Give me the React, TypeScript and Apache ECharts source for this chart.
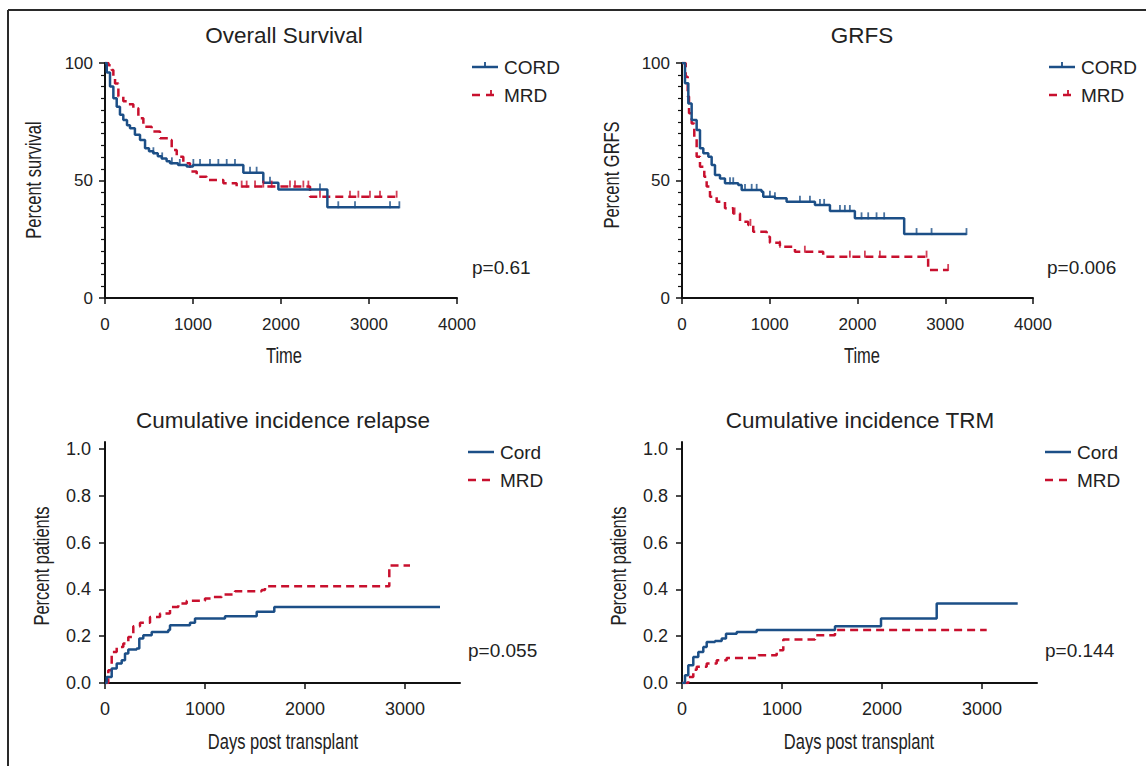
import React, { useEffect, useRef } from "react";
import * as echarts from "echarts";

const BLUE = "#1c4f87";
const RED = "#c8102e";
const INK = "#222222";
const SANS = "Liberation Sans, Arial, Helvetica, sans-serif";

// ---------- Overall survival (days, percent) ----------
const osCord = [
  [0, 100], [20, 96], [57, 90], [95, 85], [133, 81.4], [170, 78], [208, 75.7], [250, 73.5], [284, 72.2],
  [340, 69.5], [398, 67.2], [455, 63.7], [500, 62.5], [549, 61.6], [600, 60.3], [644, 59.4], [700, 58.2],
  [739, 57.3], [830, 56.6], [928, 56], [1000, 56.6], [1572, 53.3], [1799, 49], [1970, 46.2], [2527, 38.6],
  [3345, 38.6],
];
const osMrd = [
  [0, 100], [40, 99], [76, 97], [95, 94], [114, 91.3], [152, 85.7], [208, 83.7], [265, 82.5], [322, 80.7],
  [379, 76.5], [436, 72.9], [530, 70.8], [625, 68], [720, 67.2], [758, 63], [815, 60.1], [890, 57.3],
  [966, 53.8], [1042, 51.6], [1155, 50.2], [1345, 48.8], [1496, 47.4], [2330, 43.1], [3314, 43.1],
];
const osCordCensor = [550, 650, 760, 850, 1004, 1080, 1193, 1288, 1383, 1477, 1648, 1723, 1875, 2443, 2651, 2841, 3239, 3345];
const osMrdCensor = [1553, 1610, 1705, 1799, 1894, 2102, 2159, 2254, 2311, 2443, 2784, 2879, 3011, 3125, 3314];

// ---------- GRFS (days, percent) ----------
const grfsCord = [
  [0, 100], [34, 91.4], [72, 82.8], [110, 75.7], [167, 71.5], [205, 63.7], [243, 61.6], [300, 60.1],
  [338, 56.6], [376, 52.3], [433, 50.9], [490, 48.8], [641, 48.1], [680, 46], [907, 45.2], [926, 43.1],
  [1059, 42.4], [1192, 41], [1515, 39.6], [1686, 37], [1970, 33.9], [2532, 27.2], [3242, 27.2],
];
const grfsMrd = [
  [0, 100], [42, 94.2], [65, 85.7], [80, 78.6], [110, 74.3], [140, 68.6], [167, 60.1], [205, 55.9],
  [254, 51.6], [281, 47.4], [319, 43.1], [395, 41], [490, 38.2], [584, 36], [661, 32.5], [755, 31.1],
  [812, 28.2], [965, 26.1], [1002, 23.5], [1116, 21.8], [1287, 19.7], [1609, 17.6], [2805, 11.9], [3033, 11.9],
];
const grfsCordCensor = [547, 584, 718, 794, 851, 1002, 1059, 1344, 1458, 1572, 1620, 1800, 1856, 1913, 2046, 2122, 2217, 2304, 2673, 2844, 3242];
const grfsMrdCensor = [600, 780, 1116, 1400, 1913, 2084, 2255, 2787, 3033];

// ---------- Cumulative incidence relapse (days, proportion) ----------
const cirCord = [
  [0, 0], [17, 0.026], [67, 0.062], [117, 0.083], [167, 0.097], [200, 0.126], [233, 0.143], [317, 0.147],
  [343, 0.19], [383, 0.204], [467, 0.218], [633, 0.226], [650, 0.247], [850, 0.257], [900, 0.276],
  [1200, 0.285], [1517, 0.304], [1693, 0.325], [3350, 0.325],
];
const cirMrd = [
  [0, 0], [33, 0.054], [67, 0.133], [117, 0.154], [183, 0.169], [233, 0.197], [283, 0.243], [350, 0.257],
  [450, 0.282], [550, 0.297], [650, 0.325], [733, 0.34], [817, 0.351], [1000, 0.361], [1067, 0.368],
  [1167, 0.378], [1300, 0.392], [1567, 0.397], [1600, 0.414], [2843, 0.502], [3050, 0.502],
];

// ---------- Cumulative incidence TRM (days, proportion) ----------
const trmCord = [
  [0, 0], [30, 0.033], [63, 0.076], [113, 0.111], [163, 0.133], [213, 0.154], [247, 0.175], [330, 0.18],
  [397, 0.19], [440, 0.211], [547, 0.218], [747, 0.226], [1530, 0.243], [1990, 0.276], [2547, 0.34], [3357, 0.34],
];
const trmMrd = [
  [0, 0], [63, 0.026], [113, 0.057], [147, 0.069], [247, 0.083], [347, 0.097], [447, 0.107], [763, 0.119],
  [947, 0.14], [1013, 0.186], [1330, 0.204], [1530, 0.226], [3047, 0.226],
];

const survTicks = [0, 50, 100];
const dayTicksTop = [0, 1000, 2000, 3000, 4000];
const dayTicksBottom = [0, 1000, 2000, 3000];
const ciTicks = [0, 0.2, 0.4, 0.6, 0.8, 1.0];

const titles = ["Overall Survival", "GRFS", "Cumulative incidence relapse", "Cumulative incidence TRM"];
const xNames = ["Time", "Time", "Days post transplant", "Days post transplant"];
const yNames = ["Percent survival", "Percent GRFS", "Percent patients", "Percent patients"];
const pValues = ["p=0.61", "p=0.006", "p=0.055", "p=0.144"];
const legendTop = ["CORD", "MRD"];
const legendBottom = ["Cord", "MRD"];

function stepValue(curve: number[][], d: number) {
  let v = curve[0][1];
  for (const p of curve) {
    if (p[0] <= d) v = p[1];
  }
  return v;
}

const GRIDS = [
  { left: 105, top: 63, width: 352, height: 235 },
  { left: 682, top: 63, width: 351, height: 235 },
  { left: 105, top: 442, width: 355, height: 241 },
  { left: 682, top: 442, width: 355, height: 241 },
];

function xAxisFor(i: number, top: boolean) {
  const vals = top ? dayTicksTop : dayTicksBottom;
  return {
    type: "value",
    gridIndex: i,
    min: 0,
    max: top ? 4000 : 3550,
    axisLine: { show: true, lineStyle: { color: "#111", width: 2 } },
    axisTick: { show: true, length: 6, lineStyle: { color: "#111", width: 1.5 }, customValues: vals },
    axisLabel: {
      show: true,
      fontFamily: SANS,
      fontSize: top ? 17 : 18,
      color: INK,
      margin: top ? 18 : 17,
      customValues: vals,
      formatter: (v: number) => String(v),
    },
    splitLine: { show: false },
  };
}

function yAxisFor(i: number, top: boolean) {
  const vals = top ? survTicks : ciTicks;
  return {
    type: "value",
    gridIndex: i,
    min: 0,
    max: top ? 100 : 1.03,
    interval: top ? 50 : undefined,
    axisLine: { show: true, lineStyle: { color: "#111", width: 2 } },
    axisTick: { show: true, length: 6, lineStyle: { color: "#111", width: 1.5 }, customValues: vals },
    minorTick: top ? { show: true, splitNumber: 10, length: 4, lineStyle: { color: "#111", width: 1.2 } } : { show: false },
    axisLabel: {
      show: true,
      fontFamily: SANS,
      fontSize: top ? 17 : 18,
      color: INK,
      margin: top ? 12 : 14,
      customValues: vals,
      formatter: (v: number) => (top ? String(v) : v.toFixed(1)),
    },
    splitLine: { show: false },
  };
}

function lineSeries(i: number, name: string, data: number[][], color: string, dashed: boolean) {
  return {
    type: "line",
    name,
    xAxisIndex: i,
    yAxisIndex: i,
    data,
    step: "end",
    symbol: "none",
    lineStyle: { color, width: 2.5, type: dashed ? [8, 5] : "solid" },
    z: dashed ? 3 : 4,
  };
}

function censorSeries(i: number, curve: number[][], days: number[], color: string) {
  return {
    type: "scatter",
    xAxisIndex: i,
    yAxisIndex: i,
    data: days.map((d) => [d, stepValue(curve, d)]),
    symbol: "rect",
    symbolSize: [1.8, 7],
    symbolOffset: [0, -2.5],
    itemStyle: { color },
    z: 5,
  };
}

function legendGroup(x: number, y: number, labels: string[], ticks: boolean) {
  const els: any[] = [
    { type: "line", shape: { x1: x, y1: y, x2: x + 26, y2: y }, style: { stroke: BLUE, lineWidth: 2.5 } },
    { type: "text", style: { x: x + 32, y, text: labels[0], fill: INK, font: `19px ${SANS}`, verticalAlign: "middle" } },
    { type: "line", shape: { x1: x, y1: y + 28, x2: x + 26, y2: y + 28 }, style: { stroke: RED, lineWidth: 2.5, lineDash: [8, 6] } },
    { type: "text", style: { x: x + 32, y: y + 28, text: labels[1], fill: INK, font: `19px ${SANS}`, verticalAlign: "middle" } },
  ];
  if (ticks) {
    els.push({ type: "line", shape: { x1: x + 13, y1: y - 5, x2: x + 13, y2: y }, style: { stroke: BLUE, lineWidth: 1.8 } });
    els.push({ type: "line", shape: { x1: x + 19, y1: y + 23, x2: x + 19, y2: y + 28 }, style: { stroke: RED, lineWidth: 1.8 } });
  }
  return els;
}

export default function App() {
  const ref = useRef<HTMLDivElement>(null);
  useEffect(() => {
    if (!ref.current) return;
    const chart = echarts.init(ref.current, undefined, { renderer: "svg" });
    const titlePos = [[284, 35], [862, 35], [283, 420], [860, 420]];
    const pPos = [[472, 267], [1047, 267], [468, 650], [1045, 650]];
    const xNamePos = [[284, 355], [862, 355], [283, 741], [859, 741]];
    const yNamePos = [[33, 180], [611, 175], [41, 566], [618, 566]];
    const graphic: any[] = [
      { type: "line", shape: { x1: 8, y1: 10, x2: 1146, y2: 10 }, style: { stroke: "#2a2a2a", lineWidth: 2 } },
      { type: "line", shape: { x1: 8, y1: 10, x2: 8, y2: 766 }, style: { stroke: "#2a2a2a", lineWidth: 2 } },
    ];
    titles.forEach((t, i) => {
      graphic.push({
        type: "text",
        style: { x: titlePos[i][0], y: titlePos[i][1], text: t, fill: INK, font: `22.5px ${SANS}`, align: "center", verticalAlign: "middle" },
      });
    });
    xNames.forEach((t, i) => {
      graphic.push({
        type: "text",
        x: xNamePos[i][0],
        y: xNamePos[i][1],
        scaleX: 0.75,
        style: { x: 0, y: 0, text: t, fill: INK, font: `22px ${SANS}`, align: "center", verticalAlign: "middle" },
      });
    });
    yNames.forEach((t, i) => {
      graphic.push({
        type: "text",
        x: yNamePos[i][0],
        y: yNamePos[i][1],
        rotation: Math.PI / 2,
        scaleX: 0.75,
        style: { x: 0, y: 0, text: t, fill: INK, font: `22px ${SANS}`, align: "center", verticalAlign: "middle" },
      });
    });
    pValues.forEach((t, i) => {
      graphic.push({
        type: "text",
        style: { x: pPos[i][0], y: pPos[i][1], text: t, fill: INK, font: `19px ${SANS}`, verticalAlign: "middle" },
      });
    });
    graphic.push(...legendGroup(472, 67, legendTop, true));
    graphic.push(...legendGroup(1049, 67, legendTop, true));
    graphic.push(...legendGroup(468, 452, legendBottom, false));
    graphic.push(...legendGroup(1045, 452, legendBottom, false));

    chart.setOption({
      animation: false,
      backgroundColor: "#ffffff",
      grid: GRIDS.map((g) => ({ ...g, containLabel: false })),
      xAxis: [xAxisFor(0, true), xAxisFor(1, true), xAxisFor(2, false), xAxisFor(3, false)],
      yAxis: [yAxisFor(0, true), yAxisFor(1, true), yAxisFor(2, false), yAxisFor(3, false)],
      series: [
        lineSeries(0, "MRD", osMrd, RED, true),
        lineSeries(0, "CORD", osCord, BLUE, false),
        censorSeries(0, osMrd, osMrdCensor, RED),
        censorSeries(0, osCord, osCordCensor, BLUE),
        lineSeries(1, "MRD", grfsMrd, RED, true),
        lineSeries(1, "CORD", grfsCord, BLUE, false),
        censorSeries(1, grfsMrd, grfsMrdCensor, RED),
        censorSeries(1, grfsCord, grfsCordCensor, BLUE),
        lineSeries(2, "MRD", cirMrd, RED, true),
        lineSeries(2, "Cord", cirCord, BLUE, false),
        lineSeries(3, "MRD", trmMrd, RED, true),
        lineSeries(3, "Cord", trmCord, BLUE, false),
      ],
      graphic,
    });
    return () => chart.dispose();
  }, []);
  return (
    <div
      ref={ref}
      style={{ position: "absolute", left: 0, top: 0, width: 1146, height: 766, background: "#fff" }}
    />
  );
}
